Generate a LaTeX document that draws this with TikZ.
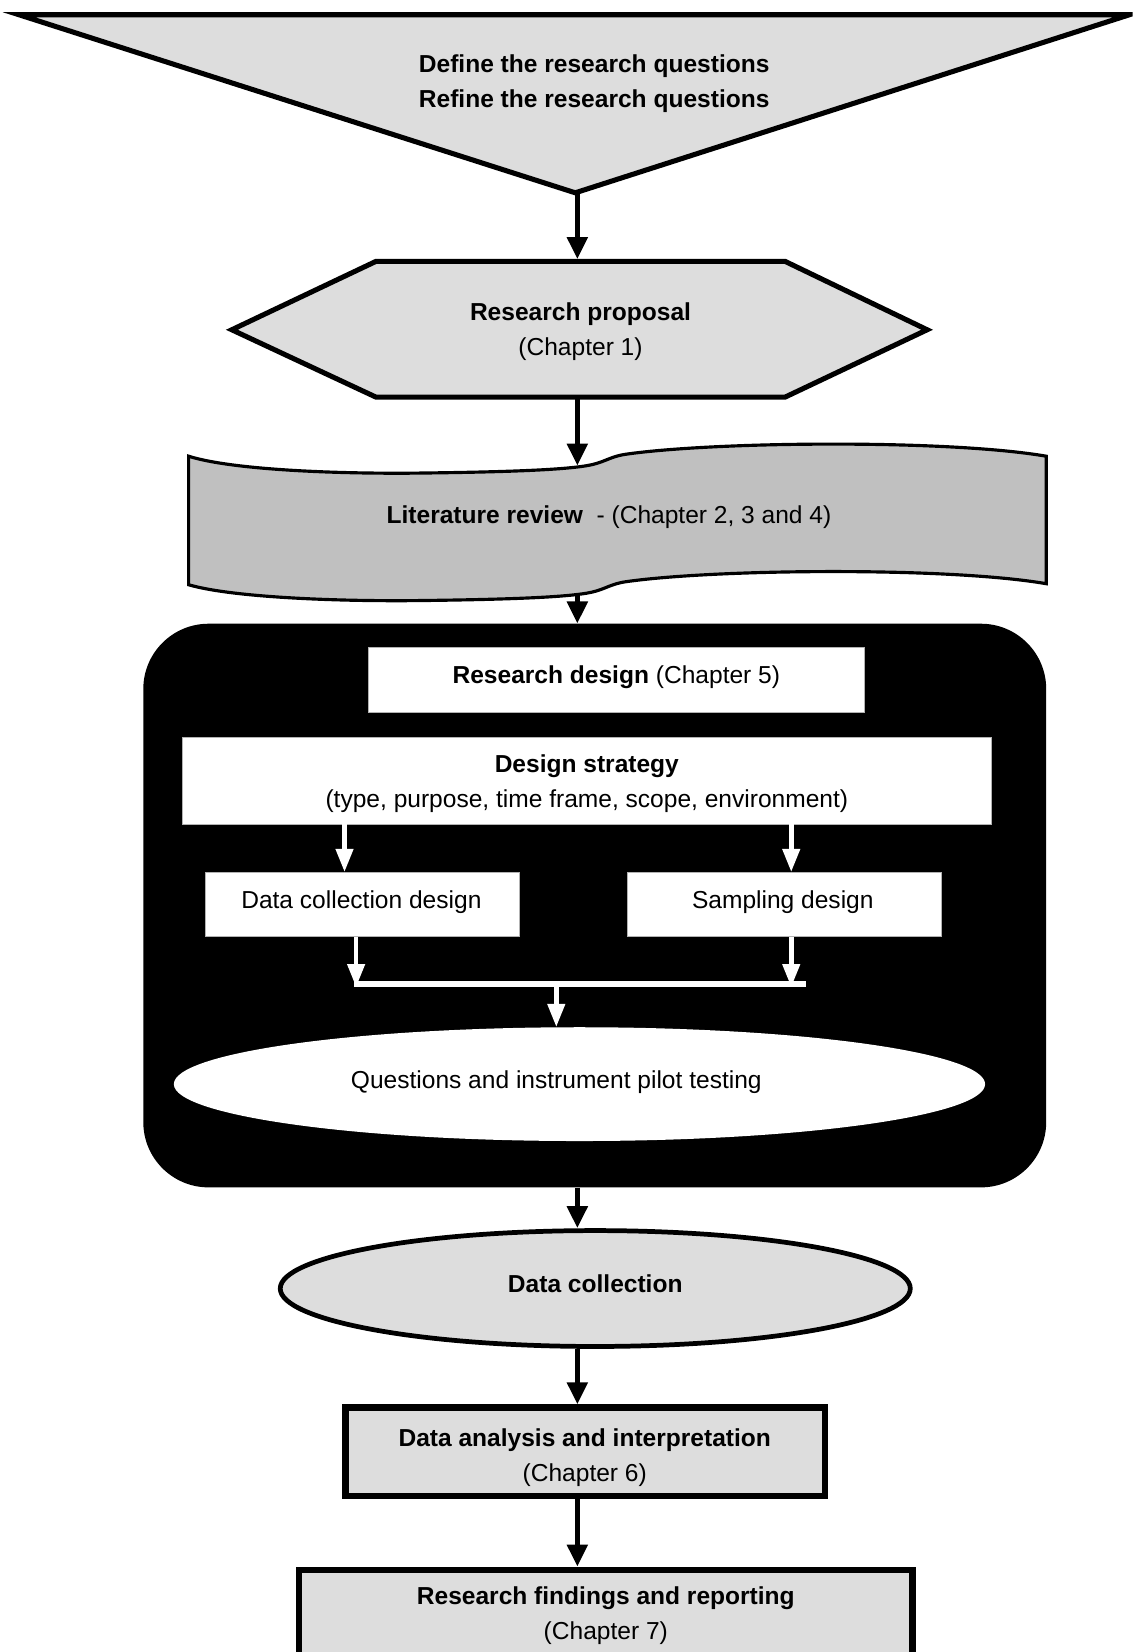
\documentclass[tikz,border=0pt]{standalone}
\usepackage{fontspec}
\setmainfont{Liberation Sans}
\usetikzlibrary{arrows.meta,shapes.geometric}
\definecolor{lightfill}{HTML}{DDDDDD}
\definecolor{tapefill}{HTML}{C0C0C0}
\begin{document}
\begin{tikzpicture}[x=1pt,y=-1pt,
  every node/.style={font=\fontsize{23.3}{33}\selectfont, align=center, inner sep=0pt},
  flow/.style={line width=5pt,-{Triangle[width=19pt,length=21pt]}},
  wflow/.style={white,line width=4.5pt,-{Triangle[width=16pt,length=22pt]}},
  outline/.style={draw=black, line width=4.8pt, line join=miter},
  whitebox/.style={draw=gray!60, line width=0.6pt, fill=white, rectangle},
  heavybox/.style={draw=black, line width=6pt, fill=lightfill, rectangle},
]
\useasboundingbox (0,0) rectangle (1075,1568);
\clip (0,0) rectangle (1075,1568);

% vertical spine of the main flow
\coordinate (spine) at (548,0);

% funnel with the research questions
\draw[outline, fill=lightfill] (18,14) -- (1072,14) -- (546,183) -- cycle;
\coordinate (funnel) at (548,183);
\node (qtext) at (564,79.5) {\textbf{Define the research questions}\\\textbf{Refine the research questions}};

% research proposal hexagon
\draw[outline, fill=lightfill] (357,248) -- (745,248) -- (880,313) -- (745,377)
  -- (357,377) -- (220,313) -- cycle;
\coordinate (prop-top) at (548,246);
\coordinate (prop-bot) at (548,379);
\node (proptext) at (551,315) {\textbf{Research proposal}\\(Chapter 1)};

% literature review tape
\draw[line width=3pt, fill=tapefill]
  (179,433) .. controls (220,446) and (320,450) .. (400,449)
  .. controls (480,448) and (540,446) .. (562,441)
  .. controls (575,438) and (580,433) .. (595,431)
  .. controls (680,419) and (900,417) .. (993,433)
  -- (993,554)
  .. controls (900,538) and (680,540) .. (595,552)
  .. controls (580,554) and (575,559) .. (562,562)
  .. controls (540,567) and (480,569) .. (400,570)
  .. controls (320,571) and (220,567) .. (179,555) -- cycle;
\coordinate (lit-top) at (548,442);
\coordinate (lit-bot) at (548,564);
\node (littext) at (578,491) {\textbf{Literature review}\hspace{0.55em}- (Chapter 2, 3 and 4)};

% research design block
\node[fill=black, rounded corners=62pt, minimum width=857pt, minimum height=535pt] (design) at (564.5,859.5) {};
\node[whitebox, minimum width=470pt, minimum height=62pt] (rd) at (585,645) {};
\node (rdtext) at (585,643) {\textbf{Research design} (Chapter 5)};
\node[whitebox, minimum width=768pt, minimum height=82pt] (ds) at (557,741) {};
\node (dstext) at (557,744) {\textbf{Design strategy}\\(type, purpose, time frame, scope, environment)};
\node[whitebox, minimum width=298pt, minimum height=61pt] (dcd) at (344,858.5) {};
\node (dcdtext) at (343,856) {Data collection design};
\node[whitebox, minimum width=298pt, minimum height=61pt] (samp) at (744,858.5) {};
\node (samptext) at (743,856) {Sampling design};
\node[ellipse, fill=white, minimum width=770pt, minimum height=108pt] (pilot) at (550,1029) {};
\node (pilottext) at (528,1027) {Questions and instrument pilot testing};

\draw[wflow] ([xshift=-230pt]ds.south) -- ([xshift=-17pt]dcd.north);
\draw[wflow] ([xshift=194pt]ds.south) -- ([xshift=7pt]samp.north);
\coordinate (joinL) at (336,934);
\coordinate (joinR) at (765,934);
\coordinate (joinM) at (528,934);
\draw[white, line width=5pt] (joinL) -- (joinR);
\draw[wflow] ([xshift=-6pt]dcd.south) -- ([xshift=-6pt,yshift=-3pt]dcd.south |- joinL);
\draw[wflow] ([xshift=7pt]samp.south) -- ([xshift=7pt,yshift=-3pt]samp.south |- joinR);
\draw[wflow] (joinM) -- (joinM |- pilot.north);

% data collection
\node[ellipse, draw=black, line width=4.5pt, fill=lightfill, minimum width=598pt, minimum height=110pt] (dc) at (565,1223) {};
\node (dctext) at (565,1218) {\textbf{Data collection}};

% analysis and reporting
\node[heavybox, minimum width=455pt, minimum height=84pt] (ana) at (555.5,1378) {};
\node (anatext) at (555,1383.5) {\textbf{Data analysis and interpretation}\\(Chapter 6)};
\node[heavybox, minimum width=582pt, minimum height=140pt, anchor=north] (find) at (575,1487) {};
\node (findtext) at (575,1533.5) {\textbf{Research findings and reporting}\\(Chapter 7)};

% main flow connectors
\draw[flow] (funnel) -- (prop-top);
\draw[flow] (prop-bot) -- (lit-top);
\draw[flow] (lit-bot) -- (design.north -| spine);
\draw[flow] (design.south -| spine) -- (dc.north -| spine);
\draw[flow] (dc.south -| spine) -- (ana.north -| spine);
\draw[flow] (ana.south -| spine) -- (find.north -| spine);
\end{tikzpicture}
\end{document}
